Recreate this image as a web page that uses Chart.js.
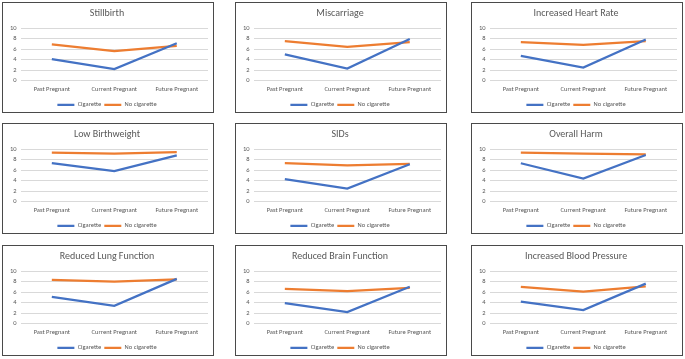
<!DOCTYPE html>
<html>
<head>
<meta charset="utf-8">
<script src="https://cdn.jsdelivr.net/npm/chart.js@4"></script>
<style>
  body { margin: 0; background: #fff; width: 685px; height: 359px; position: relative; overflow: hidden; }
  .panel { position: absolute; width: 210px; height: 109px; border: 1px solid #4a4a4a; background: #fff; }
  canvas { display: block; }
</style>
</head>
<body>
<script>
const CATEGORIES = ['Past Pregnant', 'Current Pregnant', 'Future Pregnant'];
const TITLES = [
    'Stillbirth', 'Miscarriage', 'Increased Heart Rate',
    'Low Birthweight', 'SIDs', 'Overall Harm',
    'Reduced Lung Function', 'Reduced Brain Function', 'Increased Blood Pressure'
];
const CIGARETTE = [
    [4.1, 2.2, 7.1], [5.0, 2.3, 7.9], [4.7, 2.5, 7.8],
    [7.3, 5.8, 8.8], [4.3, 2.5, 7.1], [7.3, 4.4, 8.85],
    [5.1, 3.4, 8.5], [3.9, 2.2, 7.0], [4.2, 2.6, 7.6]
];
const NO_CIGARETTE = [
    [6.9, 5.6, 6.6], [7.5, 6.4, 7.3], [7.3, 6.8, 7.5],
    [9.3, 9.1, 9.4], [7.3, 6.9, 7.2], [9.3, 9.1, 9.0],
    [8.3, 8.0, 8.4], [6.6, 6.2, 6.8], [7.0, 6.1, 7.1]
];

const LEFTS = [2, 235, 471];
const TOPS = [2, 123, 245];
const TEXT = '#595959';
const FONT = 'Carlito, "Liberation Sans"';

TITLES.forEach((title, i) => {
    const div = document.createElement('div');
    div.className = 'panel';
    div.style.left = LEFTS[i % 3] + 'px';
    div.style.top = TOPS[Math.floor(i / 3)] + 'px';
    const canvas = document.createElement('canvas');
    canvas.width = 210;
    canvas.height = 109;
    div.appendChild(canvas);
    document.body.appendChild(div);

    new Chart(canvas, {
        type: 'line',
        data: {
            labels: CATEGORIES,
            datasets: [
                {
                    label: 'Cigarette',
                    data: CIGARETTE[i],
                    borderColor: '#4472C4',
                    backgroundColor: '#4472C4',
                    borderWidth: 2.25,
                    pointRadius: 0,
                    tension: 0,
                },
                {
                    label: 'No cigarette',
                    data: NO_CIGARETTE[i],
                    borderColor: '#ED7D31',
                    backgroundColor: '#ED7D31',
                    borderWidth: 2.25,
                    pointRadius: 0,
                    tension: 0,
                },
            ]
        },
        options: {
            responsive: false,
            animation: false,
            layout: { padding: { left: 3, right: 5, top: 0, bottom: -6 } },
            scales: {
                x: {
                    offset: true,
                    grid: { display: false, drawTicks: false },
                    border: { display: false },
                    ticks: { color: TEXT, font: { family: FONT, size: 6.5 }, padding: 5, maxRotation: 0, autoSkip: false },
                },
                y: {
                    min: 0,
                    max: 10,
                    ticks: { stepSize: 2, autoSkip: false, color: TEXT, font: { family: FONT, size: 6.5 }, padding: 4 },
                    grid: { color: '#d9d9d9', drawTicks: false, lineWidth: 1 },
                    border: { display: false },
                },
            },
            plugins: {
                title: {
                    display: true,
                    text: title,
                    color: TEXT,
                    font: { family: FONT, size: 10, weight: 'normal' },
                    padding: { top: 4.5, bottom: 8.5 },
                },
                legend: {
                    position: 'bottom',
                    labels: {
                        color: TEXT,
                        font: { family: FONT, size: 6.5 },
                        usePointStyle: true,
                        pointStyle: 'line',
                        pointStyleWidth: 17,
                        boxHeight: 6,
                        padding: 3,
                    },
                },
                tooltip: { enabled: false },
            }
        }
    });
});
</script>
</body>
</html>
